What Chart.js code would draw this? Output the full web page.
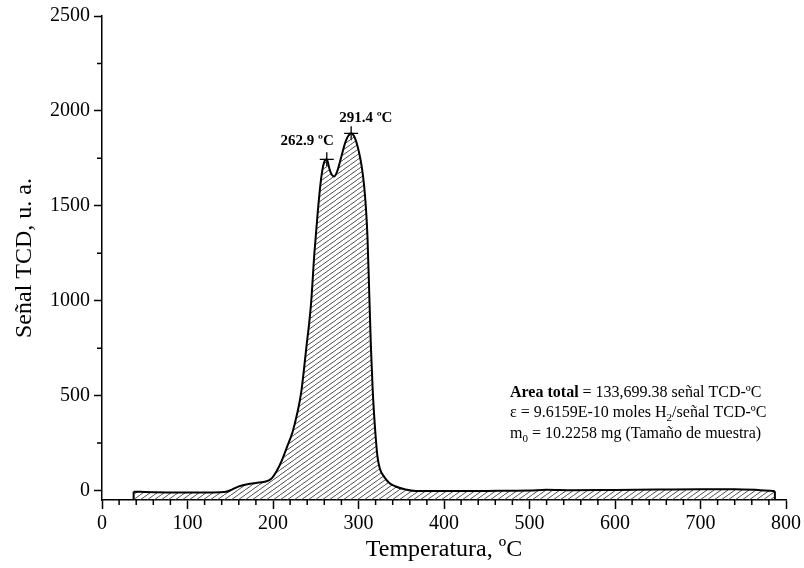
<!DOCTYPE html>
<html><head><meta charset="utf-8">
<script src="https://cdn.jsdelivr.net/npm/chart.js@4.4.1/dist/chart.umd.min.js"></script>
<style>html,body{margin:0;padding:0;background:#fff;} canvas{display:block;}</style>
</head><body>
<canvas id="c" width="804" height="568"></canvas>
<script>
// ---- data ----
const temperatures = [37, 60, 100, 130, 145, 152, 160, 170, 180, 190, 198, 204, 210, 216, 223, 228, 232.9, 238.7, 244.5, 248.4, 252.3, 256.2, 259.5, 262.9, 266, 268.5, 271.7, 275, 280, 285, 291.4, 296, 300.9, 304, 306.7, 308.8, 310.5, 312.5, 314.5, 316.5, 318.4, 320.3, 322.2, 325, 330, 336, 343.6, 355, 367, 400, 450, 500, 520, 550, 600, 650, 700, 740, 770, 787];
const signal = [-6, -9, -10, -10, -7, 5, 22, 33, 40, 46, 62, 100, 155, 225, 310, 400, 514, 741, 985, 1250, 1465, 1640, 1725, 1745, 1695, 1665, 1655, 1680, 1760, 1840, 1882, 1855, 1776, 1700, 1600, 1480, 1337, 1050, 760, 540, 389, 270, 179, 115, 72, 40, 21, 5, -3, -3, -2, 0, 4, 1, 3, 5, 7, 6, 2, -4];
const peakTemps = [262.9, 291.4];
const peakSignals = [1745, 1882];
const peakLabels = ['262.9 ºC', '291.4 ºC'];
const xTicks = [0, 100, 200, 300, 400, 500, 600, 700, 800];
const yTicks = [0, 500, 1000, 1500, 2000, 2500];
const xMinorTicks = [20, 40, 60, 80, 120, 140, 160, 180, 220, 240, 260, 280, 320, 340, 360, 380, 420, 440, 460, 480, 520, 540, 560, 580, 620, 640, 660, 680, 720, 740, 760, 780];
const yMinorTicks = [250, 750, 1250, 1750, 2250];
const xMin = 0, xMax = 800, yMin = -50, yMax = 2500;

const serif = "'Liberation Serif', 'Times New Roman', serif";

function hatch() {
  const W = 7, H = 5;
  const c = document.createElement('canvas');
  c.width = W; c.height = H;
  const g = c.getContext('2d');
  g.strokeStyle = '#3a3a3a';
  g.lineWidth = 0.9;
  g.beginPath();
  for (const dx of [-W, 0, W]) { g.moveTo(dx, H); g.lineTo(dx + W, 0); }
  g.stroke();
  return g.createPattern(c, 'repeat');
}

const minorTicks = {
  id: 'minorTicks',
  afterDraw(chart) {
    const {ctx, chartArea, scales} = chart;
    ctx.save();
    ctx.strokeStyle = '#000';
    ctx.lineWidth = 1.5;
    ctx.beginPath();
    xMinorTicks.forEach(v => {
      const px = scales.x.getPixelForValue(v);
      ctx.moveTo(px, chartArea.bottom); ctx.lineTo(px, chartArea.bottom + 5);
    });
    yMinorTicks.forEach(v => {
      const py = scales.y.getPixelForValue(v);
      ctx.moveTo(chartArea.left, py); ctx.lineTo(chartArea.left - 5, py);
    });
    ctx.stroke();
    ctx.restore();
  }
};

const texts = {
  id: 'texts',
  afterDatasetsDraw(chart) {
    const {ctx} = chart;
    ctx.save();
    ctx.fillStyle = '#000';
    ctx.textBaseline = 'alphabetic';
    ctx.font = 'bold 15px ' + serif;
    const meta = chart.getDatasetMeta(3);
    const p0 = meta.data[0], p1 = meta.data[1];
    ctx.textAlign = 'right';
    ctx.fillText(peakLabels[0], p0.x + 7, p0.y - 14);
    ctx.textAlign = 'left';
    ctx.fillText(peakLabels[1], p1.x - 12, p1.y - 11);

    // info block
    ctx.textAlign = 'left';
    const x0 = 510;
    const reg = '16px ' + serif, bold = 'bold 16px ' + serif, sub = '11px ' + serif;
    const parts = (y, segs) => {
      let x = x0;
      segs.forEach(([t, f, dy]) => { ctx.font = f; ctx.fillText(t, x, y + (dy || 0)); x += ctx.measureText(t).width; });
    };
    parts(397, [['Area total', bold], [' = 133,699.38 señal TCD-ºC', reg]]);
    parts(417, [['ε = 9.6159E-10 moles H', reg], ['2', sub, 4], ['/señal TCD-ºC', reg]]);
    parts(438, [['m', reg], ['0', sub, 4], [' = 10.2258 mg (Tamaño de muestra)', reg]]);
    ctx.restore();
  }
};

const nT = temperatures.length - 1;
new Chart(document.getElementById('c').getContext('2d'), {
  type: 'line',
  data: {
    datasets: [
      { data: temperatures.map((t, i) => ({x: t, y: signal[i]})), borderColor: '#000', borderWidth: 2,
        backgroundColor: hatch(), fill: 'start', pointRadius: 0, cubicInterpolationMode: 'monotone' },
      { data: [{x: temperatures[0], y: yMin}, {x: temperatures[0], y: signal[0]}], borderColor: '#000', borderWidth: 2, pointRadius: 0, fill: false, tension: 0 },
      { data: [{x: temperatures[nT], y: yMin}, {x: temperatures[nT], y: signal[nT]}], borderColor: '#000', borderWidth: 2, pointRadius: 0, fill: false, tension: 0 },
      { type: 'scatter', data: peakTemps.map((t, i) => ({x: t, y: peakSignals[i]})), pointStyle: 'cross',
        pointRadius: 7, borderColor: '#000', backgroundColor: '#000', borderWidth: 1.3, showLine: false }
    ]
  },
  options: {
    responsive: false, devicePixelRatio: 1, animation: false,
    plugins: { legend: {display: false}, tooltip: {enabled: false} },
    layout: { padding: {top: 16, right: 16, left: 0, bottom: 0} },
    scales: {
      x: {
        type: 'linear', min: xMin, max: xMax,
        afterBuildTicks: s => { s.ticks = xTicks.map(v => ({value: v})); },
        afterFit: s => { s.height = 68; },
        ticks: { autoSkip: false, maxRotation: 0, color: '#000', font: {family: serif, size: 20}, padding: 3, callback: v => String(v) },
        grid: { drawOnChartArea: false, tickLength: 9, tickWidth: 1.5, tickColor: '#000', color: '#000' },
        border: { color: '#000', width: 1.5 },
        title: { display: true, text: 'Temperatura, ºC', color: '#000', font: {family: serif, size: 24}, padding: {top: 0, bottom: 4} }
      },
      y: {
        type: 'linear', min: yMin, max: yMax,
        afterBuildTicks: s => { s.ticks = yTicks.map(v => ({value: v})); },
        afterFit: s => { s.width = 102; },
        ticks: { autoSkip: false, color: '#000', font: {family: serif, size: 20}, padding: 4, callback: v => String(v) },
        grid: { drawOnChartArea: false, tickLength: 8, tickWidth: 1.5, tickColor: '#000', color: '#000' },
        border: { color: '#000', width: 1.5 },
        title: { display: true, text: 'Señal TCD, u. a.', color: '#000', font: {family: serif, size: 24}, padding: {top: 10, bottom: 0} }
      }
    }
  },
  plugins: [minorTicks, texts]
});
</script>
</body></html>
